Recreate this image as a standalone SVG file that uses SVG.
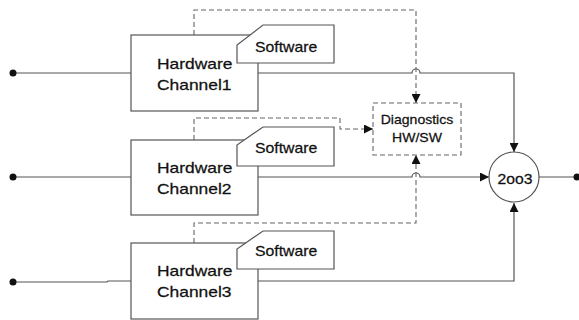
<svg xmlns="http://www.w3.org/2000/svg" width="579" height="320" viewBox="0 0 579 320">
<style>
.box{fill:#fff;stroke:#555;stroke-width:1.2}
.dbox{fill:#fff;stroke:#666;stroke-width:1.1;stroke-dasharray:5 3}
.ln{fill:none;stroke:#555;stroke-width:1.2}
.dl{fill:none;stroke:#666;stroke-width:1.1;stroke-dasharray:5 3}
.t{font-family:"Liberation Sans",Arial,sans-serif;fill:#111;stroke:#111;stroke-width:0.25}
.dot{fill:#111}
</style>
<defs>
<marker id="ah" viewBox="0 0 10 10" refX="10" refY="5" markerWidth="9" markerHeight="9" markerUnits="userSpaceOnUse" orient="auto">
<path d="M0,0 L10,5 L0,10 z" fill="#111"/>
</marker>
</defs>
<g id="connectors">
<line class="ln" x1="13" y1="73" x2="131" y2="73"/>
<line class="ln" x1="13" y1="177" x2="131" y2="177"/>
<polyline class="ln" points="13,282 107,282 108,281 131,281"/>
<path class="ln" d="M258,73 H412 A4,4 0 0 1 420,73 H514 V152" marker-end="url(#ah)"/>
<path class="ln" d="M258,177 H412 A4,4 0 0 1 420,177 H489" marker-end="url(#ah)"/>
<path class="ln" d="M258,281 H514 V203" marker-end="url(#ah)"/>
<line class="ln" x1="539" y1="177" x2="577" y2="177"/>
<path class="dl" d="M194,35 V10 H416 V103" marker-end="url(#ah)"/>
<path class="dl" d="M194,140 V118 H340 V129 H373" marker-end="url(#ah)"/>
<path class="dl" d="M194,243 V223 H416 V155" marker-end="url(#ah)"/>
<circle class="dot" cx="13" cy="73" r="3.5"/>
<circle class="dot" cx="13" cy="177" r="3.5"/>
<circle class="dot" cx="13" cy="282" r="3.5"/>
<circle class="dot" cx="577" cy="177" r="3.5"/>
</g>
<g id="channel1">
<rect class="box" x="131" y="35" width="127" height="76"/>
<text class="t" font-size="15" transform="translate(157,69) scale(1.16,1)">Hardware</text>
<text class="t" font-size="15" transform="translate(157,90) scale(1.16,1)">Channel1</text>
</g>
<g id="software1">
<path class="box" d="M263,25 H334 V63 H237 V45 Z"/>
<text class="t" font-size="14" transform="translate(255,52) scale(1.13,1)">Software</text>
</g>
<g id="channel2">
<rect class="box" x="131" y="140" width="127" height="75"/>
<text class="t" font-size="15" transform="translate(157,173) scale(1.16,1)">Hardware</text>
<text class="t" font-size="15" transform="translate(157,194) scale(1.16,1)">Channel2</text>
</g>
<g id="software2">
<path class="box" d="M263,127 H334 V166 H237 V145 Z"/>
<text class="t" font-size="14" transform="translate(255,153) scale(1.13,1)">Software</text>
</g>
<g id="channel3">
<rect class="box" x="131" y="243" width="127" height="76"/>
<text class="t" font-size="15" transform="translate(157,276) scale(1.16,1)">Hardware</text>
<text class="t" font-size="15" transform="translate(157,297) scale(1.16,1)">Channel3</text>
</g>
<g id="software3">
<path class="box" d="M263,231 H334 V269 H237 V249 Z"/>
<text class="t" font-size="14" transform="translate(255,256) scale(1.13,1)">Software</text>
</g>
<g id="diagnostics">
<rect class="dbox" x="373" y="103" width="88" height="52"/>
<text class="t" font-size="13" text-anchor="middle" transform="translate(417,124) scale(1.08,1)">Diagnostics</text>
<text class="t" font-size="13" text-anchor="middle" transform="translate(417,142) scale(1.08,1)">HW/SW</text>
</g>
<g id="voter">
<circle class="box" cx="514" cy="177" r="25"/>
<text class="t" font-size="15" text-anchor="middle" transform="translate(515,184) scale(1.05,1)">2oo3</text>
</g>
</svg>
